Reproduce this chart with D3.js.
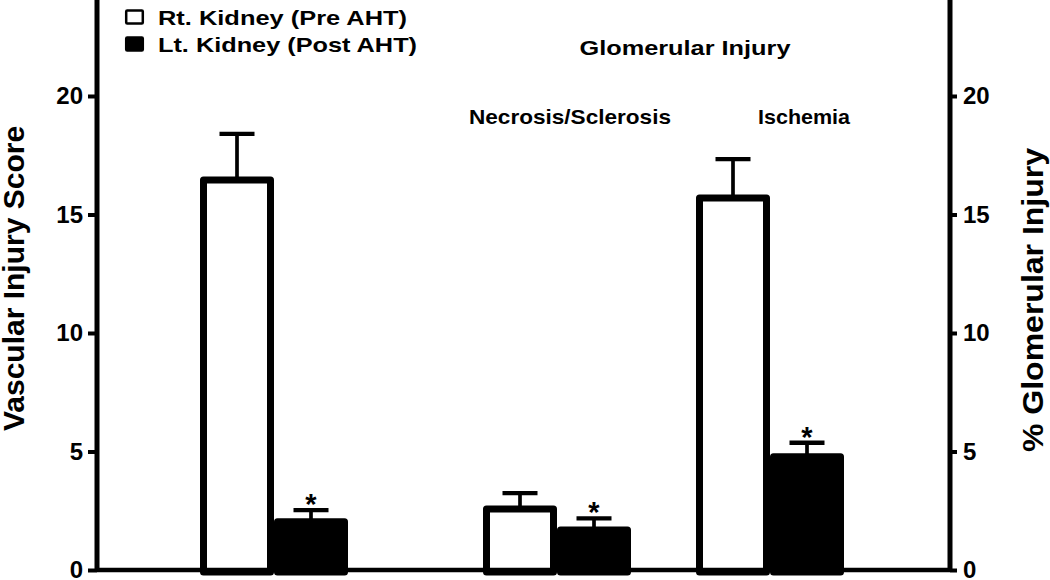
<!DOCTYPE html>
<html><head><meta charset="utf-8">
<script src="https://cdn.jsdelivr.net/npm/d3@7"></script>
<style>body{margin:0;background:#fff}svg{display:block}text{font-family:"Liberation Sans",Arial,sans-serif;font-weight:bold}</style>
</head><body><svg id="c" width="1050" height="580"></svg>
<script>
const groups = ["Vascular", "Necrosis/Sclerosis", "Ischemia"];
const series = ["Rt. Kidney (Pre AHT)", "Lt. Kidney (Post AHT)"];
const preValues = [16.46, 2.57, 15.7];
const preErrors = [1.94, 0.67, 1.64];
const postValues = [2.04, 1.69, 4.78];
const postErrors = [0.49, 0.49, 0.59];
const significant = [true, true, true];
const yTicks = [0, 5, 10, 15, 20];
const groupLabels = [
  {text: "Glomerular Injury", x: 685, y: 55, w: 211},
  {text: "Necrosis/Sclerosis", x: 570, y: 124, w: 202},
  {text: "Ischemia", x: 804, y: 124, w: 92}
];

const svg = d3.select("#c");
const left = 97, right = 950, base = 570;
const y = d3.scaleLinear().domain([0, 24.05]).range([base, 0]);
const groupStart = d3.scaleOrdinal().domain(groups).range([200, 483, 696]);
const sub = d3.scaleBand().domain(series).range([0, 148]).padding(0);
const bw = sub.bandwidth();
const sw = 7;

// axes
const yl = d3.axisLeft(y).tickValues(yTicks).tickSize(9).tickPadding(5);
const yr = d3.axisRight(y).tickValues(yTicks).tickSize(7).tickPadding(6);
const gL = svg.append("g").attr("transform", `translate(${left},0)`).call(yl);
const gR = svg.append("g").attr("transform", `translate(${right},0)`).call(yr);
[gL, gR].forEach(g => {
  g.select(".domain").remove();
  g.selectAll(".tick line").attr("stroke", "#000").attr("stroke-width", 4);
  g.selectAll(".tick text").attr("font-size", 24).attr("font-weight", "bold").attr("fill", "#000")
    .attr("font-family", '"Liberation Sans",Arial,sans-serif');
});
svg.append("line").attr("x1", left).attr("x2", left).attr("y1", 0).attr("y2", base + 2).attr("stroke", "#000").attr("stroke-width", 5);
svg.append("line").attr("x1", right).attr("x2", right).attr("y1", 0).attr("y2", base + 2).attr("stroke", "#000").attr("stroke-width", 5);

// data
const data = [];
groups.forEach((g, i) => {
  data.push({g, s: series[0], v: preValues[i], e: preErrors[i], sig: false, fill: "#fff"});
  data.push({g, s: series[1], v: postValues[i], e: postErrors[i], sig: significant[i], fill: "#000"});
});

const bars = svg.append("g");
bars.selectAll("rect").data(data).join("rect")
  .attr("x", d => groupStart(d.g) + sub(d.s) + sw / 2)
  .attr("width", bw - sw)
  .attr("y", d => y(d.v))
  .attr("height", d => y(0) - y(d.v) + 2)
  .attr("fill", d => d.fill)
  .attr("stroke", "#000")
  .attr("stroke-width", sw)
  .attr("stroke-linejoin", "round");

const cx = d => groupStart(d.g) + sub(d.s) + bw / 2;
const eb = svg.append("g");
eb.selectAll("line.v").data(data).join("line").attr("class", "v")
  .attr("x1", cx).attr("x2", cx)
  .attr("y1", d => y(d.v)).attr("y2", d => y(d.v + d.e))
  .attr("stroke", "#000").attr("stroke-width", 3.7);
eb.selectAll("line.c").data(data).join("line").attr("class", "c")
  .attr("x1", d => cx(d) - 17.5).attr("x2", d => cx(d) + 17.5)
  .attr("y1", d => y(d.v + d.e)).attr("y2", d => y(d.v + d.e))
  .attr("stroke", "#000").attr("stroke-width", 4.3);
eb.selectAll("text").data(data.filter(d => d.sig)).join("text")
  .attr("x", cx).attr("y", d => y(d.v + d.e) + 4)
  .attr("text-anchor", "middle").attr("font-size", 29).text("*");

// baseline
svg.append("line").attr("x1", left).attr("x2", right).attr("y1", base).attr("y2", base).attr("stroke", "#000").attr("stroke-width", 4.5);

// labels
svg.selectAll("text.gl").data(groupLabels).join("text").attr("class", "gl")
  .attr("x", d => d.x - d.w / 2).attr("y", d => d.y)
  .attr("textLength", d => d.w).attr("lengthAdjust", "spacingAndGlyphs")
  .attr("font-size", 21).text(d => d.text);

// axis titles
svg.append("text").attr("transform", `translate(24,278.5) rotate(-90)`)
  .attr("text-anchor", "middle").attr("font-size", 30).text("Vascular Injury Score");
svg.append("text").attr("transform", `translate(1043,300) rotate(-90)`)
  .attr("x", -152).attr("textLength", 304).attr("lengthAdjust", "spacingAndGlyphs")
  .attr("font-size", 30).text("% Glomerular Injury");

// legend
const legW = [249, 259];
const leg = svg.append("g").attr("transform", "translate(125,0)");
series.forEach((s, i) => {
  leg.append("rect").attr("x", 1.2).attr("y", 10.5 + i * 27).attr("width", 16.6).attr("height", 13)
    .attr("fill", i ? "#000" : "#fff").attr("stroke", "#000").attr("stroke-width", 2.5).attr("rx", 1);
  leg.append("text").attr("x", 33).attr("y", 25 + i * 27).attr("font-size", 21)
    .attr("textLength", legW[i]).attr("lengthAdjust", "spacingAndGlyphs").text(s);
});
</script></body></html>
